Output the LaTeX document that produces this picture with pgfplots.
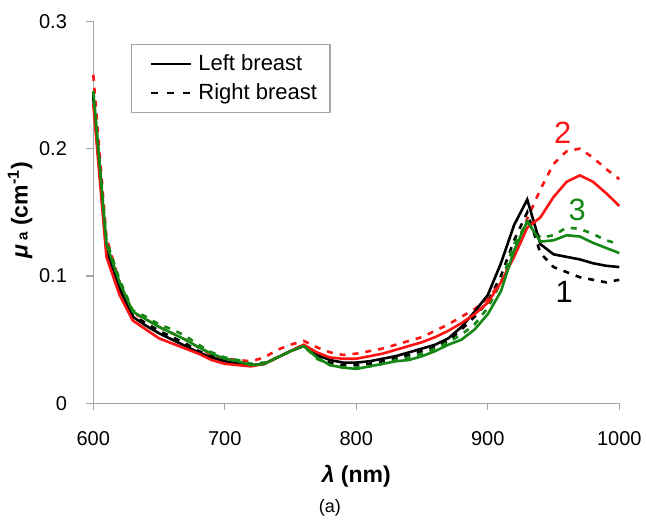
\documentclass[border=0pt]{standalone}
\usepackage{pgfplots}
\pgfplotsset{compat=1.18}
\usepackage{pgfplotstable}
\usepackage{fontspec}
\setmainfont{Liberation Sans}
\definecolor{cgreen}{RGB}{20,135,20}
\definecolor{cred}{RGB}{250,20,20}
\definecolor{axgray}{RGB}{165,165,165}

\pgfplotstableread{
x     bL     bR     rL     rR     gL     gR
600   0.240  0.242  0.235  0.258  0.245  0.245
610   0.120  0.122  0.115  0.130  0.125  0.128
620   0.090  0.090  0.085  0.095  0.095  0.097
630   0.068  0.069  0.065  0.071  0.072  0.073
640   0.061  0.063  0.058  0.066  0.066  0.068
650   0.055  0.057  0.051  0.060  0.060  0.062
660   0.050  0.052  0.047  0.055  0.055  0.058
670   0.045  0.047  0.043  0.050  0.050  0.053
680   0.040  0.041  0.039  0.044  0.044  0.046
690   0.036  0.037  0.034  0.038  0.039  0.040
700   0.033  0.034  0.031  0.035  0.035  0.036
710   0.031  0.032  0.030  0.034  0.033  0.034
720   0.030  0.030  0.029  0.033  0.030  0.031
730   0.031  0.031  0.031  0.036  0.031  0.032
740   0.036  0.036  0.036  0.042  0.036  0.036
750   0.041  0.041  0.041  0.046  0.041  0.041
760   0.045  0.046  0.046  0.049  0.045  0.045
770   0.038  0.037  0.040  0.044  0.036  0.035
780   0.034  0.032  0.036  0.040  0.030  0.030
790   0.032  0.030  0.035  0.038  0.028  0.028
800   0.032  0.030  0.035  0.039  0.027  0.028
810   0.033  0.031  0.037  0.041  0.029  0.029
820   0.035  0.033  0.039  0.043  0.031  0.031
830   0.037  0.035  0.042  0.046  0.033  0.034
840   0.040  0.038  0.045  0.049  0.034  0.036
850   0.043  0.041  0.048  0.052  0.037  0.039
860   0.046  0.044  0.052  0.057  0.041  0.043
870   0.051  0.049  0.057  0.062  0.046  0.048
880   0.060  0.058  0.063  0.068  0.050  0.054
890   0.072  0.068  0.070  0.074  0.058  0.062
900   0.085  0.080  0.079  0.082  0.070  0.075
910   0.110  0.100  0.095  0.095  0.088  0.095
920   0.140  0.128  0.115  0.118  0.120  0.125
930   0.160  0.150  0.138  0.145  0.143  0.142
940   0.125  0.118  0.146  0.168  0.127  0.130
950   0.117  0.107  0.162  0.188  0.128  0.132
960   0.115  0.103  0.174  0.198  0.132  0.138
970   0.113  0.099  0.179  0.200  0.131  0.137
980   0.110  0.097  0.174  0.193  0.126  0.133
990   0.108  0.095  0.165  0.184  0.122  0.128
1000  0.107  0.097  0.155  0.176  0.118  0.125
}\spectra

\begin{document}
\begin{tikzpicture}
\begin{axis}[
  scale only axis,
  width=263pt, height=191pt,
  xmin=600, xmax=1000, ymin=0, ymax=0.3,
  axis x line=bottom, axis y line=left,
  axis line style={axgray, -, line width=0.6pt},
  xtick={600,700,800,900,1000},
  ytick={0,0.1,0.2,0.3},
  tick align=outside,
  major tick length=3.5pt,
  tick style={axgray, line width=0.6pt},
  /pgf/number format/assume math mode=true,
  /pgf/number format/1000 sep={},
  ticklabel style={font=\fontsize{10}{12}\selectfont, inner sep=0pt},
  xticklabel style={anchor=center, yshift=-14.35pt},
  yticklabel style={anchor=east, xshift=-9.5pt},
  xlabel={\textbf{\textit{λ} (nm)}},
  xlabel style={at={(axis description cs:0.5,-0.1898)}, anchor=center, inner sep=0pt, font=\fontsize{11.5}{13}\selectfont},
  ylabel={\textbf{\textit{μ}\,{\fontsize{7.5}{9}\selectfont a} (cm\textsuperscript{-1})}},
  ylabel style={at={(axis description cs:-0.139,0.506)}, anchor=center, inner sep=0pt, font=\fontsize{11.5}{13}\selectfont},
  legend style={at={(rel axis cs:0.0717,0.9406)}, anchor=north west, draw=axgray, line width=0.6pt,
    font=\fontsize{11}{12}\selectfont, inner xsep=9pt, inner ysep=3pt, row sep=1pt,
    /tikz/every odd column/.append style={column sep=1pt}},
  legend cell align=left,
  legend image code/.code={\draw[#1] (0pt,0pt) -- (20pt,0pt);},
  clip=false,
]
\addlegendimage{black, line width=1.4pt}
\addlegendentry{Left breast}
\addlegendimage{black, line width=1.4pt, dash pattern=on 3.5pt off 4.5pt}
\addlegendentry{Right breast\hspace*{-4.5pt}}

\addplot[black, line width=1.3pt, dash pattern=on 3pt off 3.5pt, forget plot] table[x=x, y=bR] {\spectra};
\addplot[cred, line width=1.3pt, dash pattern=on 3pt off 3.5pt, forget plot] table[x=x, y=rR] {\spectra};
\addplot[cgreen, line width=1.3pt, dash pattern=on 3pt off 3.5pt, forget plot] table[x=x, y=gR] {\spectra};
\addplot[black, line width=1.3pt, forget plot] table[x=x, y=bL] {\spectra};
\addplot[cred, line width=1.3pt, forget plot] table[x=x, y=rL] {\spectra};
\addplot[cgreen, line width=1.3pt, forget plot] table[x=x, y=gL] {\spectra};

\node[cred, font=\fontsize{15.4}{18}\selectfont] at (axis cs:957,0.2127) {2};
\node[cgreen, font=\fontsize{15.4}{18}\selectfont] at (axis cs:968,0.1518) {3};
\node[black, font=\fontsize{15.4}{18}\selectfont] at (axis cs:958,0.0874) {1};
\node[font=\fontsize{9}{11}\selectfont, inner sep=0pt] at (rel axis cs:0.45,0) [yshift=-52.35pt] {(a)};
\end{axis}
\pgfresetboundingbox
\path[use as bounding box] (-46.65pt,-58.85pt) rectangle (276.85pt,201.65pt);
\end{tikzpicture}
\end{document}
